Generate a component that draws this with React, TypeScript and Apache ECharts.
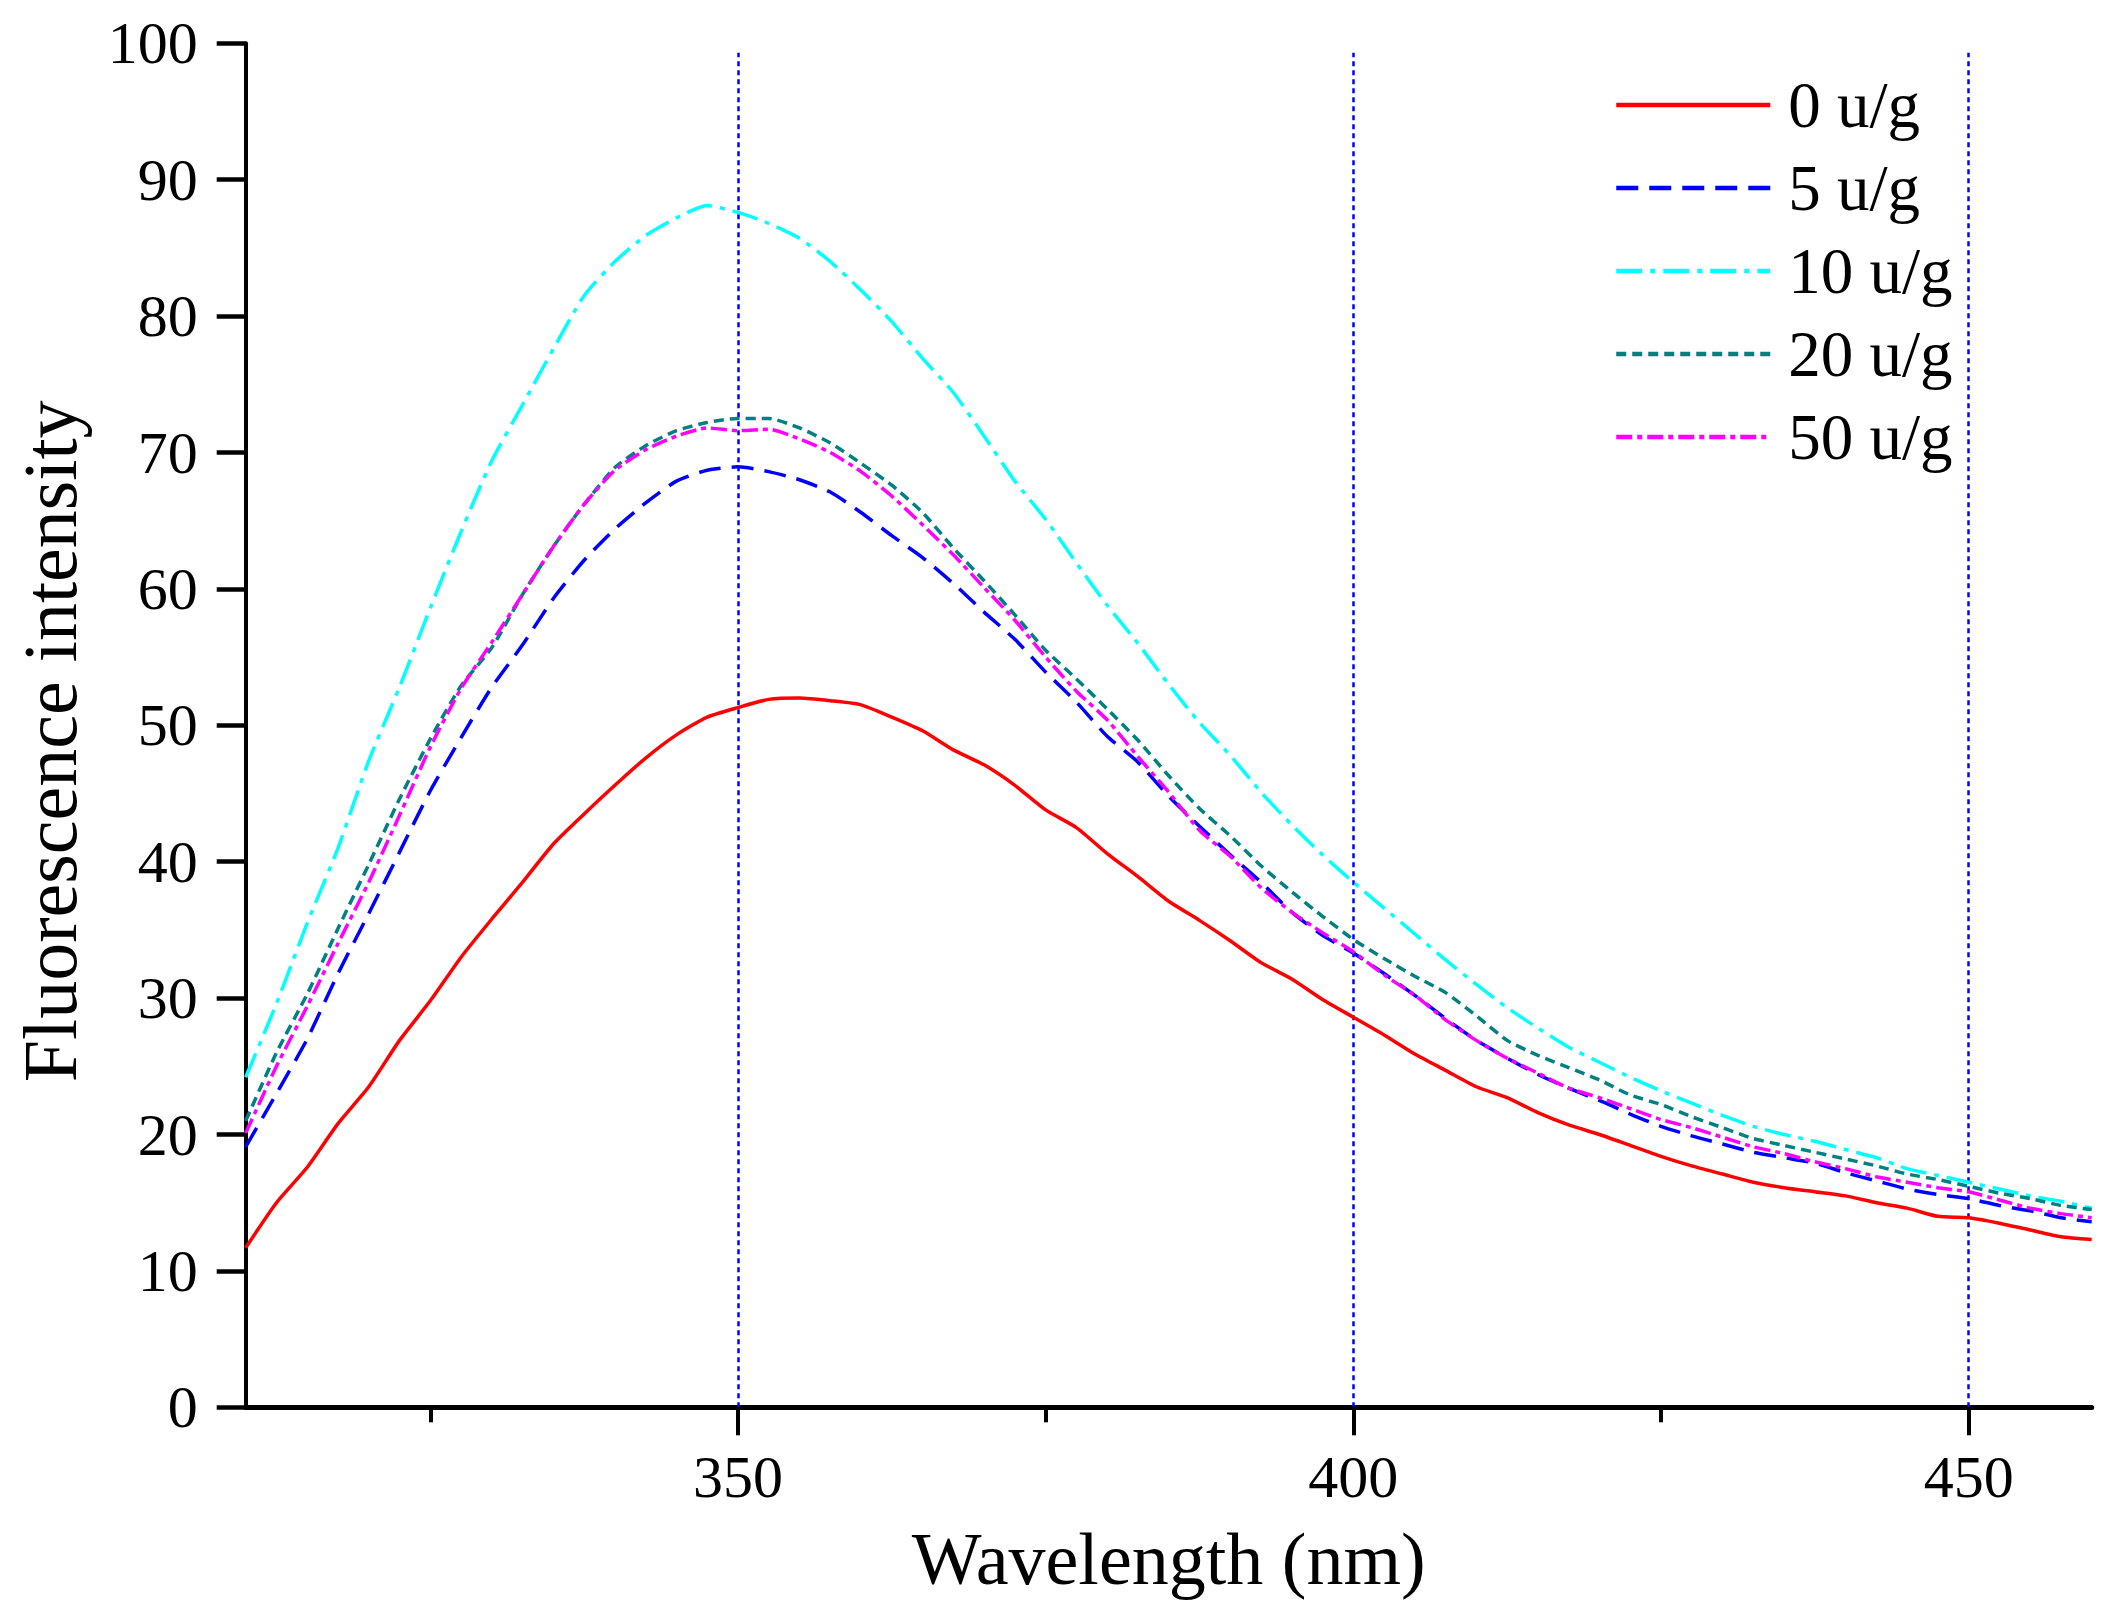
import React, { useEffect, useRef } from "react";
import * as echarts from "echarts";

const wavelengths = [
  310, 312.5, 315, 317.5, 320, 322.5, 325, 327.5, 330, 332.5, 335, 337.5, 340, 342.5, 345, 347.5,
  350, 352.5, 355, 357.5, 360, 362.5, 365, 367.5, 370, 372.5, 375, 377.5, 380, 382.5, 385, 387.5,
  390, 392.5, 395, 397.5, 400, 402.5, 405, 407.5, 410, 412.5, 415, 417.5, 420, 422.5, 425, 427.5,
  430, 432.5, 435, 437.5, 440, 442.5, 445, 447.5, 450, 452.5, 455, 457.5, 460,
];

const seriesNames = ["0 u/g", "5 u/g", "10 u/g", "20 u/g", "50 u/g"];

const values0 = [
  11.7, 15.0, 17.6, 20.8, 23.5, 26.9, 29.8, 33.0, 35.8, 38.5, 41.3, 43.5, 45.6, 47.6, 49.3, 50.6,
  51.3, 51.9, 52.0, 51.8, 51.5, 50.6, 49.6, 48.2, 47.1, 45.6, 43.8, 42.5, 40.6, 38.9, 37.1, 35.7,
  34.2, 32.6, 31.4, 29.9, 28.6, 27.3, 25.9, 24.7, 23.5, 22.7, 21.6, 20.7, 20.0, 19.2, 18.4, 17.7,
  17.1, 16.5, 16.1, 15.8, 15.5, 15.0, 14.6, 14.0, 13.9, 13.5, 13.0, 12.5, 12.3,
];

const values5 = [
  19.1, 23.0, 27.0, 31.8, 36.2, 40.7, 45.2, 49.1, 52.8, 55.9, 59.3, 62.1, 64.4, 66.3, 67.9, 68.7,
  68.95, 68.6, 68.0, 67.1, 65.6, 63.9, 62.3, 60.4, 58.3, 56.3, 53.9, 51.7, 49.2, 47.3, 44.8, 42.6,
  40.5, 38.5, 36.3, 34.6, 33.3, 31.8, 30.2, 28.5, 26.9, 25.6, 24.4, 23.4, 22.5, 21.5, 20.6, 19.9,
  19.3, 18.7, 18.3, 17.9, 17.2, 16.6, 16.0, 15.6, 15.3, 14.8, 14.4, 13.9, 13.6,
];

const values10 = [
  24.2, 29.6, 35.5, 41.0, 47.4, 52.8, 58.6, 64.2, 69.4, 73.5, 77.6, 81.5, 84.0, 85.9, 87.2, 88.1,
  87.6, 86.8, 85.7, 84.0, 81.9, 79.6, 76.9, 74.4, 71.2, 67.9, 65.1, 61.9, 58.8, 56.0, 53.0, 50.2,
  47.8, 45.1, 42.7, 40.5, 38.5, 36.6, 34.7, 32.8, 31.0, 29.3, 27.8, 26.4, 25.3, 24.2, 23.2, 22.3,
  21.4, 20.6, 20.0, 19.5, 18.9, 18.3, 17.5, 17.0, 16.5, 16.0, 15.5, 15.1, 14.6,
];

const values20 = [
  21.0, 26.0, 30.3, 35.1, 39.8, 44.6, 49.0, 52.9, 55.7, 59.6, 63.1, 66.2, 68.9, 70.5, 71.6, 72.2,
  72.5, 72.5, 71.8, 70.7, 69.2, 67.6, 65.6, 63.0, 60.6, 58.1, 55.5, 53.4, 51.2, 48.9, 46.3, 43.9,
  41.9, 39.7, 37.8, 36.0, 34.3, 32.9, 31.6, 30.4, 28.7, 26.9, 25.8, 24.9, 24.0, 22.9, 22.2, 21.3,
  20.5, 19.7, 19.2, 18.7, 18.2, 17.7, 17.1, 16.7, 16.2, 15.7, 15.3, 14.8, 14.5,
];

const values50 = [
  20.1, 25.0, 29.4, 34.0, 38.5, 43.4, 48.4, 52.7, 56.1, 59.6, 63.1, 66.2, 68.7, 70.2, 71.2, 71.8,
  71.6, 71.7, 71.0, 70.0, 68.6, 66.8, 64.7, 62.5, 60.1, 57.7, 55.0, 52.5, 50.4, 47.7, 45.1, 42.3,
  40.4, 38.1, 36.3, 34.8, 33.4, 31.7, 30.2, 28.4, 26.9, 25.6, 24.5, 23.4, 22.7, 21.9, 21.1, 20.5,
  19.8, 19.1, 18.6, 18.0, 17.5, 16.9, 16.5, 16.1, 15.8, 15.2, 14.6, 14.2, 13.9,
];

const xMajorTicks = [350, 400, 450];
const xMinorTicks = [325, 375, 425];
const gridLineValues = [350, 400, 450];

const FONT = "'Liberation Serif', 'Times New Roman', serif";

export default function App() {
  const ref = useRef<HTMLDivElement>(null);

  useEffect(() => {
    if (!ref.current) return;
    const chart = echarts.init(ref.current, null, { renderer: "svg" });

    const allValues = [values0, values5, values10, values20, values50];
    const colors = ["#FF0000", "#0000FF", "#00FFFF", "#008080", "#FF00FF"];
    const dashes: any[] = ["solid", [22, 11], [26, 8, 5, 8], [10, 6], [16, 5, 5, 5]];

    const series: any[] = allValues.map((vals, idx) => ({
      name: seriesNames[idx],
      type: "line",
      symbol: "none",
      showSymbol: false,
      smooth: 0.2,
      data: wavelengths.map((w, i) => [w, vals[i]]),
      lineStyle: { color: colors[idx], width: 3.5, type: dashes[idx] },
      itemStyle: { color: colors[idx] },
      z: 3,
    }));

    series[0].markLine = {
      silent: true,
      symbol: ["none", "none"],
      label: { show: false },
      lineStyle: { color: "#0000FF", width: 2.5, type: [5, 4] },
      z: 1,
      data: gridLineValues.map((v) => [{ coord: [v, 0] }, { coord: [v, 99.3] }]),
    };

    chart.setOption({
      animation: false,
      backgroundColor: "#ffffff",
      grid: {
        left: 237.7,
        right: 21.3,
        top: 35.3,
        bottom: 199.7,
        containLabel: false,
        outerBoundsMode: "none",
      },
      legend: {
        orient: "vertical",
        left: 1606,
        top: 62,
        padding: 0,
        itemWidth: 154,
        itemHeight: 20,
        itemGap: 13,
        selectedMode: false,
        itemStyle: { opacity: 0 },
        lineStyle: { width: 4.5 },
        textStyle: {
          fontFamily: FONT,
          fontSize: 65,
          color: "#000",
          lineHeight: 70,
          padding: [0, 0, 0, 13],
        },
        data: seriesNames,
      },
      xAxis: [
        {
          type: "value",
          min: 310,
          max: 460,
          name: "Wavelength (nm)",
          nameLocation: "middle",
          nameGap: 115,
          nameTextStyle: { fontFamily: FONT, fontSize: 74, color: "#000" },
          axisLine: { show: true, lineStyle: { color: "#000", width: 5 } },
          axisTick: {
            show: true,
            inside: false,
            length: 28,
            customValues: xMajorTicks,
            lineStyle: { color: "#000", width: 4 },
          },
          axisLabel: {
            show: true,
            customValues: xMajorTicks,
            margin: 40,
            fontFamily: FONT,
            fontSize: 60,
            color: "#000",
          },
          splitLine: { show: false },
        },
        {
          type: "value",
          min: 310,
          max: 460,
          position: "bottom",
          axisLine: { show: false },
          axisTick: {
            show: true,
            inside: false,
            length: 15,
            customValues: xMinorTicks,
            lineStyle: { color: "#000", width: 4 },
          },
          axisLabel: { show: false },
          splitLine: { show: false },
        },
      ],
      yAxis: {
        type: "value",
        min: 0,
        max: 100,
        interval: 10,
        name: "Fluorescence intensity",
        nameLocation: "middle",
        nameGap: 158,
        nameRotate: 90,
        nameTextStyle: {
          fontFamily: FONT,
          fontSize: 76,
          color: "#000",
          padding: [0, 32, 0, 0],
        },
        axisLine: { show: true, lineStyle: { color: "#000", width: 4 } },
        axisTick: { show: true, inside: false, length: 29, lineStyle: { color: "#000", width: 4.5 } },
        axisLabel: { margin: 48, fontFamily: FONT, fontSize: 60, color: "#000" },
        splitLine: { show: false },
      },
      series,
    });

    return () => chart.dispose();
  }, []);

  return <div ref={ref} style={{ width: 2105, height: 1599 }} />;
}
